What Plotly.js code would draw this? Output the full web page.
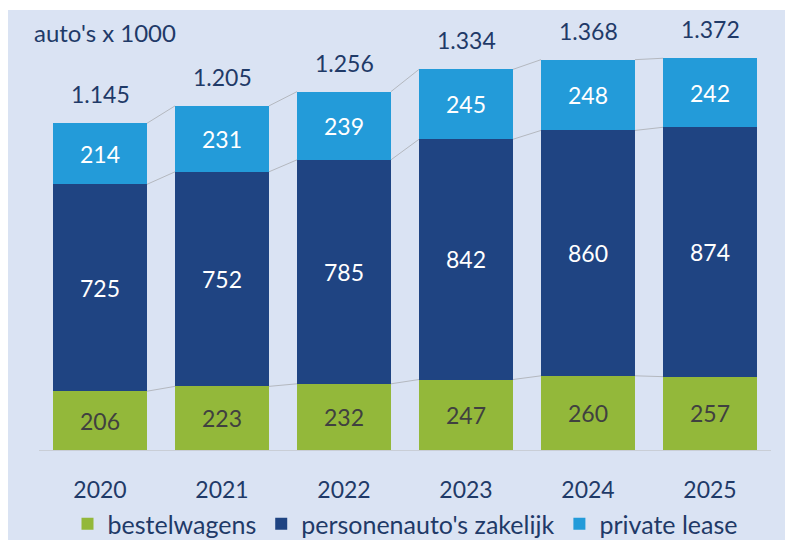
<!DOCTYPE html>
<html>
<head>
<meta charset="utf-8">
<script src="https://cdn.plot.ly/plotly-3.0.1.min.js"></script>
<style>
  html, body {margin: 0; padding: 0; background: #ffffff;}
  #chart {width: 785px; height: 540px;}
</style>
</head>
<body>
<div id="chart"></div>
<script>
  // data
  const years = ["2020", "2021", "2022", "2023", "2024", "2025"]
  const bestelwagens = [206, 223, 232, 247, 260, 257]
  const zakelijk = [725, 752, 785, 842, 860, 874]
  const privateLease = [214, 231, 239, 245, 248, 242]
  const totals = [1145, 1205, 1256, 1334, 1368, 1372]

  const seriesNames = ["bestelwagens", "personenauto's zakelijk", "private lease"]
  const seriesColors = ["#93b83a", "#1f4482", "#239bd9"]
  const labelColors = ["#404040", "#ffffff", "#ffffff"]
  const navy = "#1f3a68"
  const font = "Lato, 'Open Sans', sans-serif"
  const barWidth = 0.77

  const xs = years.map((_, i) => i)
  const fmt = v => v >= 1000 ? Math.floor(v / 1000) + "." + String(v % 1000).padStart(3, "0") : String(v)

  const seriesValues = [bestelwagens, zakelijk, privateLease]
  const data = seriesValues.map((vals, k) => ({
    type: "bar", x: xs, y: vals, name: seriesNames[k], width: barWidth,
    marker: {color: seriesColors[k], line: {width: 0}},
    text: vals.map(String), textposition: "inside", insidetextanchor: "middle",
    textangle: 0, constraintext: "none",
    textfont: {family: font, size: 23, color: labelColors[k]},
    hoverinfo: "skip"
  }))

  // series lines between the stacked levels (Excel style)
  const levels = [
    bestelwagens,
    bestelwagens.map((v, i) => v + zakelijk[i]),
    bestelwagens.map((v, i) => v + zakelijk[i] + privateLease[i])
  ]
  levels.forEach(level => {
    const lx = [], ly = []
    for (let i = 0; i < years.length - 1; i++) {
      lx.push(i + barWidth / 2, i + 1 - barWidth / 2, null)
      ly.push(level[i], level[i + 1], null)
    }
    data.push({type: "scatter", mode: "lines", x: lx, y: ly, showlegend: false,
      hoverinfo: "skip", line: {color: "#b4b8bf", width: 1}})
  })

  // pixel helpers for the fixed plot area
  const L = 39, R = 14, T = 22, B = 90
  const W = 785 - L - R, H = 540 - T - B
  const px = x => (x - L) / W
  const py = y => (540 - B - y) / H

  const annotations = totals.map((t, i) => ({
    x: i, y: levels[2][i], xref: "x", yref: "y", text: fmt(t), showarrow: false,
    yanchor: "middle", yshift: 29, font: {family: font, size: 23, color: navy}
  }))
  annotations.push({
    x: px(32), y: py(33), xref: "paper", yref: "paper", xanchor: "left", yanchor: "middle",
    text: "auto's x 1000", showarrow: false, font: {family: font, size: 24, color: navy}
  })

  const layout = {
    width: 785, height: 540,
    margin: {l: L, r: R, t: T, b: B},
    paper_bgcolor: "#ffffff",
    plot_bgcolor: "rgba(0,0,0,0)",
    barmode: "stack",
    font: {family: font, color: navy},
    showlegend: true,
    legend: {orientation: "h", traceorder: "normal", x: 0.5, xanchor: "center",
      yref: "container", y: (540 - 524) / 540, yanchor: "middle",
      font: {family: font, size: 25, color: navy}, bgcolor: "rgba(0,0,0,0)"},
    xaxis: {
      range: [-0.5, 5.5], tickvals: xs, ticktext: years, showgrid: false, zeroline: false,
      showline: true, linecolor: "#c9ced6", linewidth: 1,
      ticks: "outside", ticklen: 19, tickcolor: "rgba(0,0,0,0)",
      tickfont: {family: font, size: 23, color: navy}, fixedrange: true, automargin: false
    },
    yaxis: {range: [0, 1500], visible: false, showgrid: false, zeroline: false, fixedrange: true},
    annotations,
    shapes: [{
      type: "rect", xref: "paper", yref: "paper", layer: "below",
      x0: px(8), x1: px(785), y0: py(10), y1: py(540),
      fillcolor: "#dae3f3", line: {width: 0}
    }]
  }

  Plotly.newPlot("chart", data, layout, {displayModeBar: false, staticPlot: true})
</script>
</body>
</html>
